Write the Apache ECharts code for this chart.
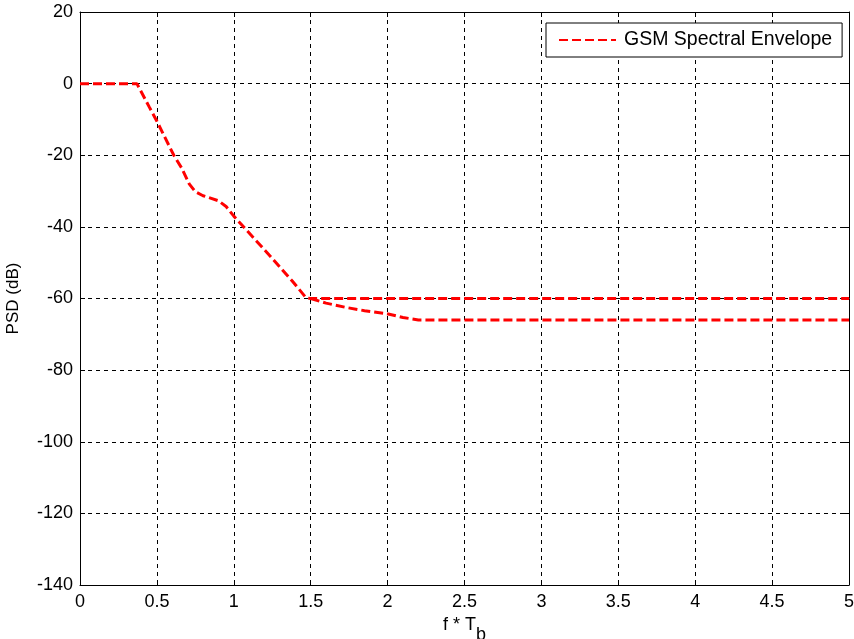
<!DOCTYPE html>
<html>
<head>
<meta charset="utf-8">
<script src="https://cdn.jsdelivr.net/npm/echarts@6/dist/echarts.min.js"></script>
<style>html,body{margin:0;padding:0;background:#fff;}#c{width:854px;height:639px;}</style>
</head>
<body>
<div id="c"></div>
<script>
const seriesName = 'GSM Spectral Envelope';
// upper branch of the envelope (ends at -60 dB)
const fTUpper = [0, 0.37, 0.45, 0.5, 0.61, 0.66, 0.71, 0.75, 0.8, 0.9, 0.95, 1.0, 1.25, 1.38, 1.47, 1.5, 5];
const psdUpper = [0, 0, -6.5, -10.5, -20, -23.5, -28, -30.2, -31.3, -32.7, -34.3, -37, -48.8, -55.1, -59.8, -60, -60];
// lower branch (ends at -66 dB)
const fTLower = [1.5, 1.6, 1.73, 1.85, 1.99, 2.1, 2.2, 5];
const psdLower = [-60, -61.3, -62.5, -63.4, -64.2, -65.3, -66, -66];
const xTicks = {min: 0, max: 5, interval: 0.5};
const yTicks = {min: -140, max: 20, interval: 20};

const chart = echarts.init(document.getElementById('c'), null, {renderer: 'canvas'});
const font = '"Liberation Sans", Arial, sans-serif';
const axisCommon = {
  axisLine: {show: true, onZero: false, lineStyle: {color: '#000', width: 1}},
  axisTick: {show: true, inside: true, length: 5, lineStyle: {color: '#000'}},
  axisLabel: {color: '#000', fontFamily: font, fontSize: 18},
};
const lineStyle = {color: '#ff0000', width: 3, type: [9, 4]};
chart.setOption({
  animation: false,
  backgroundColor: '#fff',
  grid: {left: 80, right: 5, top: 12, bottom: 54, containLabel: false, outerBoundsMode: 'none'},
  legend: {
    left: 546, top: 23,
    padding: [7, 10, 7, 12],
    itemWidth: 57, itemHeight: 19,
    borderColor: '#000', borderWidth: 1, borderRadius: 0,
    backgroundColor: '#fff',
    itemStyle: {color: 'rgba(0,0,0,0)', borderWidth: 0, borderColor: 'rgba(0,0,0,0)'},
    textStyle: {color: '#000', fontFamily: font, fontSize: 19.5, padding: [0, 0, 0, 3]},
    data: [seriesName]
  },
  xAxis: [
    Object.assign({}, axisCommon, {
      type: 'value', position: 'bottom',
      min: xTicks.min, max: xTicks.max, interval: xTicks.interval,
      name: '{a|f * T}{b|b}', nameLocation: 'middle', nameGap: 21,
      nameTextStyle: {rich: {
        a: {fontFamily: font, fontSize: 18, color: '#000'},
        b: {fontFamily: font, fontSize: 18, color: '#000', padding: [20, 0, 0, 0]}
      }},
      axisLabel: {color: '#000', fontFamily: font, fontSize: 18, margin: 8},
      splitLine: {show: true, lineStyle: {color: '#000', type: [4, 4], width: 1}}
    }),
    Object.assign({}, axisCommon, {
      type: 'value', position: 'top',
      min: xTicks.min, max: xTicks.max, interval: xTicks.interval,
      axisLabel: {show: false}, splitLine: {show: false}
    })
  ],
  yAxis: [
    Object.assign({}, axisCommon, {
      type: 'value', position: 'left',
      min: yTicks.min, max: yTicks.max, interval: yTicks.interval,
      name: 'PSD (dB)', nameLocation: 'middle', nameGap: 58, nameRotate: 90,
      nameTextStyle: {color: '#000', fontFamily: font, fontSize: 17},
      axisLabel: {color: '#000', fontFamily: font, fontSize: 18, margin: 7},
      splitLine: {show: true, lineStyle: {color: '#000', type: [4, 4], width: 1}}
    }),
    Object.assign({}, axisCommon, {
      type: 'value', position: 'right',
      min: yTicks.min, max: yTicks.max, interval: yTicks.interval,
      axisLabel: {show: false}, splitLine: {show: false}
    })
  ],
  series: [{
    name: seriesName,
    type: 'line',
    data: fTUpper.map((x, i) => [x, psdUpper[i]]),
    showSymbol: false, symbol: 'none',
    lineStyle: lineStyle,
    itemStyle: {color: '#ff0000'},
    z: 5
  }, {
    name: seriesName,
    type: 'line',
    data: fTLower.map((x, i) => [x, psdLower[i]]),
    showSymbol: false, symbol: 'none',
    lineStyle: lineStyle,
    itemStyle: {color: '#ff0000'},
    z: 5
  }]
});
</script>
</body>
</html>
